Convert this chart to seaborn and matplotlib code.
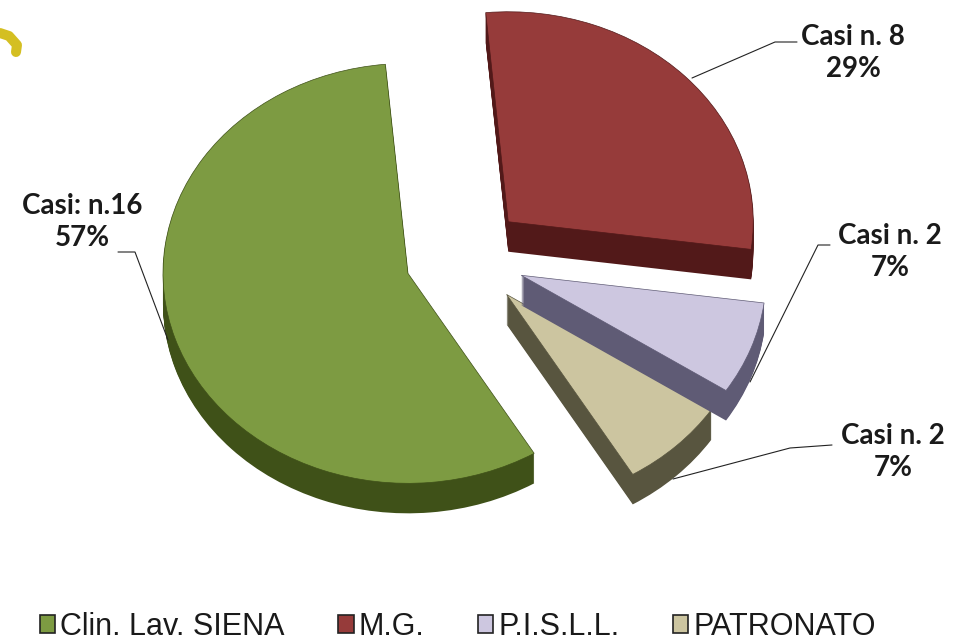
import matplotlib
matplotlib.use("Agg")
import matplotlib.pyplot as plt
from matplotlib.lines import Line2D
from matplotlib.patches import Patch
import seaborn as sns

# dati
categorie = ["Clin. Lav. SIENA", "M.G.", "P.I.S.L.L.", "PATRONATO"]
casi = [16, 8, 2, 2]
etichette = ["Casi: n.16\n57%", "Casi n. 8\n29%", "Casi n. 2\n7%", "Casi n. 2\n7%"]
colori = ["#7d9b42", "#963b3a", "#cdc7e0", "#ccc5a0"]
colori_lato = ["#3f5118", "#521919", "#5f5b75", "#58553f"]

W, H = 977, 643
SQUASH = 0.857
PROF = 30
RAGGIO = 245
CENTRO = (465, 450)
ESPLOSO = [60] * 4  # in unita' dati, come il raggio
ORDINE_Z = [3, 3, 2, 1]

sns.set_theme(style="white")
fig = plt.figure(figsize=(W / 100, H / 100), dpi=100, facecolor="white")
ax = fig.add_axes([0, 0, 1, 1])


def disegna(centro, col):
    wedges, _ = ax.pie(casi, explode=ESPLOSO, radius=RAGGIO, center=centro, colors=col,
                       startangle=-59, counterclock=False, wedgeprops={"linewidth": 0})
    for w, z in zip(wedges, ORDINE_Z):
        w.set_zorder(z)
    return wedges


# spessore 3D: strati sovrapposti
for d in range(PROF, 0, -1):
    disegna((CENTRO[0], CENTRO[1] - d / SQUASH), colori_lato)
for w, c in zip(disegna(CENTRO, colori), colori_lato):
    w.set_edgecolor(c)
    w.set_linewidth(0.5)
ax.set_aspect("auto")
ax.set_xlim(0, W)
ax.set_ylim(0, H / SQUASH)
ax.axis("off")


def linea(xs, ys, **kw):
    fig.add_artist(Line2D([x / W for x in xs], [1 - y / H for y in ys], transform=fig.transFigure, **kw))


# linee guida
linea([118, 135, 168], [252, 252, 340], color="#222222", lw=0.8)
linea([797, 775, 692], [42, 42, 78], color="#222222", lw=0.8)
linea([830, 818, 750], [245, 245, 382], color="#222222", lw=0.8)
linea([832, 790, 673], [445, 448, 479], color="#222222", lw=0.8)

# etichette
pos = [(82, 222), (853, 53), (890, 252), (893, 452)]
for testo, (x, y) in zip(etichette, pos):
    fig.text(x / W, 1 - y / H, testo, ha="center", va="center", family="Lato",
             fontsize=20, fontweight="bold", color="#1a1a1a", linespacing=1.25)

# macchia gialla in alto a sinistra
linea([0, 9, 17, 16], [33, 36, 45, 52], color="#d4bf22", lw=7.2, solid_capstyle="round")

handles = [Patch(facecolor=c, edgecolor="#222222", linewidth=1.2) for c in colori]
fig.legend(handles, categorie, loc="lower left", bbox_to_anchor=(40 / W, 1 / H), ncol=4, frameon=False,
           prop={"family": "Liberation Sans", "size": 22}, handlelength=0.5, handleheight=0.5,
           handletextpad=0.17, columnspacing=1.75, labelcolor="#1a1a1a", borderaxespad=0, borderpad=0)

fig.savefig("out.png", dpi=100, facecolor="white")
